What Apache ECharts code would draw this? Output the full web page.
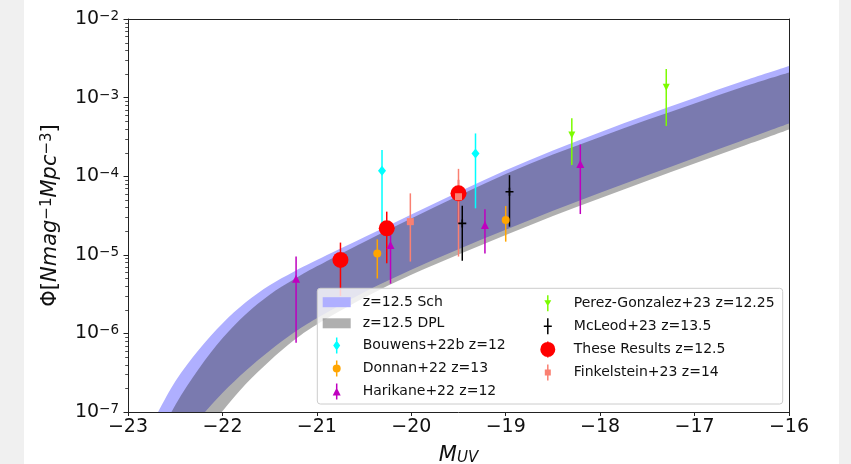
<!DOCTYPE html>
<html>
<head>
<meta charset="utf-8">
<script src="https://cdn.jsdelivr.net/npm/echarts@6/dist/echarts.min.js"></script>
<style>
  html, body { margin: 0; padding: 0; background: #f0f0f0; }
  #chart { position: absolute; left: 24px; top: 0; width: 815px; height: 464px; background: #ffffff; }
</style>
</head>
<body>
<div id="chart"></div>
<script>
// ---- Model envelopes (UV luminosity function at z = 12.5) ----
const bandMuv  = [-22.75, -22.5, -22.25, -22, -21.75, -21.5, -21.25, -21, -20.5, -20, -19.5, -19, -18.5, -18, -17.5, -17, -16.5, -16];
const schUpper = [7.03e-8, 2.44e-7, 6.19e-7, 1.34e-6, 2.50e-6, 4.10e-6, 6.05e-6, 8.57e-6, 1.67e-5, 3.26e-5, 6.28e-5, 1.19e-4, 2.12e-4, 3.63e-4, 6.05e-4, 9.91e-4, 1.60e-3, 2.52e-3];
const schLower = [1.29e-8, 3.55e-8, 8.13e-8, 1.74e-7, 3.37e-7, 6.01e-7, 1.01e-6, 1.56e-6, 3.34e-6, 6.46e-6, 1.18e-5, 2.08e-5, 3.63e-5, 6.15e-5, 1.03e-4, 1.71e-4, 2.83e-4, 4.68e-4];
const dplUpper = [3.14e-8, 1.22e-7, 3.56e-7, 8.67e-7, 1.77e-6, 3.11e-6, 4.81e-6, 7.13e-6, 1.46e-5, 2.90e-5, 5.66e-5, 1.07e-4, 1.89e-4, 3.16e-4, 5.21e-4, 8.43e-4, 1.35e-3, 2.08e-3];
const dplLower = [5.13e-9, 1.62e-8, 4.17e-8, 1.02e-7, 2.28e-7, 4.46e-7, 8.04e-7, 1.30e-6, 2.84e-6, 5.56e-6, 1.01e-5, 1.79e-5, 3.12e-5, 5.26e-5, 8.77e-5, 1.45e-4, 2.39e-4, 3.94e-4];

// ---- Observational points: M_UV, Phi, lower and upper error bounds ----
const bouwensM   = [-20.31, -19.32];
const bouwensPhi = [1.17e-4, 1.95e-4];
const bouwensLo  = [2.4e-5, 3.9e-5];
const bouwensHi  = [2.15e-4, 3.5e-4];

const donnanM   = [-20.36, -19.0];
const donnanPhi = [1.04e-5, 2.77e-5];
const donnanLo  = [5.0e-6, 1.47e-5];
const donnanHi  = [1.57e-5, 4.18e-5];

const harikaneM   = [-21.22, -20.22, -19.22, -18.21];
const harikanePhi = [4.97e-6, 1.33e-5, 2.39e-5, 1.43e-4];
const harikaneLo  = [7.6e-7, 4.3e-6, 1.04e-5, 3.3e-5];
const harikaneHi  = [9.5e-6, 2.0e-5, 3.8e-5, 2.53e-4];

const perezM   = [-18.30, -17.30];
const perezPhi = [3.34e-4, 1.35e-3];
const perezLo  = [1.39e-4, 4.35e-4];
const perezHi  = [5.46e-4, 2.31e-3];

const mcleodM   = [-19.46, -18.96];
const mcleodPhi = [2.51e-5, 6.35e-5];
const mcleodLo  = [8.4e-6, 2.28e-5];
const mcleodHi  = [4.21e-5, 1.03e-4];

const thisM   = [-20.75, -20.26, -19.50];
const thisPhi = [8.6e-6, 2.17e-5, 6.05e-5];
const thisLo  = [3.0e-6, 7.8e-6, 2.5e-5];
const thisHi  = [1.43e-5, 3.54e-5, 9.0e-5];

const finkM   = [-20.01, -19.50];
const finkPhi = [2.64e-5, 5.48e-5];
const finkLo  = [8.2e-6, 9.5e-6];
const finkHi  = [6.05e-5, 1.24e-4];

// ---- Axis ticks ----
const xMin = -23, xMax = -16;
const yMin = 1e-7, yMax = 1e-2;
// minor log ticks at 2..9 x 10^e
const minorTickValues = [];
for (let e = -7; e < -2; e++) {
  for (let k = 2; k <= 9; k++) minorTickValues.push(k * Math.pow(10, e));
}

const FONT = 'DejaVu Sans';
const AX = '#222';
const TXT = '#111';
const SCH_COLOR = 'rgb(175,175,255)';
const DPL_COLOR = 'rgba(20,20,20,0.34)';

// smooth Catmull-Rom edge through pixel points, as cubic Bezier path commands
function splinePath(pts) {
  let d = '';
  for (let i = 0; i < pts.length - 1; i++) {
    const p0 = pts[Math.max(i - 1, 0)], p1 = pts[i], p2 = pts[i + 1], p3 = pts[Math.min(i + 2, pts.length - 1)];
    const c1x = p1[0] + (p2[0] - p0[0]) / 6, c1y = p1[1] + (p2[1] - p0[1]) / 6;
    const c2x = p2[0] - (p3[0] - p1[0]) / 6, c2y = p2[1] - (p3[1] - p1[1]) / 6;
    d += 'C' + c1x + ',' + c1y + ' ' + c2x + ',' + c2y + ' ' + p2[0] + ',' + p2[1];
  }
  return d;
}

function bandSeries(name, lower, upper, color) {
  return {
    type: 'custom', name: name, silent: true,
    data: bandMuv.map((m, i) => [m, lower[i], upper[i]]),
    encode: { x: 0, y: [1, 2] },
    itemStyle: { color: color },
    renderItem: function (params, api) {
      if (params.dataIndex !== 0) return;
      const up = bandMuv.map((m, i) => api.coord([m, upper[i]]));
      const lo = bandMuv.map((m, i) => api.coord([m, lower[i]])).reverse();
      const d = 'M' + up[0][0] + ',' + up[0][1] + splinePath(up) +
                'L' + lo[0][0] + ',' + lo[0][1] + splinePath(lo) + 'Z';
      const cs = params.coordSys;
      return {
        type: 'path',
        shape: { pathData: d },
        style: { fill: color, stroke: null },
        clipPath: { type: 'rect', shape: { x: cs.x, y: cs.y, width: cs.width, height: cs.height } }
      };
    }
  };
}

function errorSeries(name, muv, lo, hi, color) {
  return {
    type: 'custom', name: name + '-err', silent: true,
    data: muv.map((m, i) => [m, lo[i], hi[i]]),
    encode: { x: 0, y: [1, 2] },
    renderItem: function (params, api) {
      const a = api.coord([api.value(0), api.value(1)]);
      const b = api.coord([api.value(0), api.value(2)]);
      return {
        type: 'line',
        shape: { x1: a[0], y1: a[1], x2: b[0], y2: b[1] },
        style: { stroke: color, lineWidth: 1.5 }
      };
    }
  };
}

function markerSeries(name, muv, phi, color, symbol, size, rotate) {
  return {
    type: 'scatter', name: name, silent: true,
    data: muv.map((m, i) => [m, phi[i]]),
    symbol: symbol, symbolSize: size, symbolRotate: rotate || 0,
    itemStyle: { color: color, opacity: 1, borderWidth: 0 }
  };
}

// short outward ticks on the left spine for the minor log values
const minorTickSeries = {
  type: 'custom', name: 'minor-ticks', silent: true, z: 6,
  data: minorTickValues.map(v => [xMin, v]),
  encode: { x: 0, y: 1 },
  renderItem: function (params, api) {
    const p = api.coord([api.value(0), api.value(1)]);
    const y = Math.round(p[1]) + 0.5;
    return {
      type: 'line',
      shape: { x1: p[0] - 2.8, y1: y, x2: p[0], y2: y },
      style: { stroke: AX, lineWidth: 0.8 }
    };
  }
};

const PLUS = 'path://M-4,-0.8H4V0.8H-4Z M-0.8,-4H0.8V4H-0.8Z';

const datasets = [
  { name: 'Bouwens+22b z=12', m: bouwensM, p: bouwensPhi, lo: bouwensLo, hi: bouwensHi, color: '#00ffff', symbol: 'diamond', size: [8, 10],
    icon: 'path://M-0.75,0L0.75,0L0.75,16L-0.75,16Z M0,3L3.5,8L0,13L-3.5,8Z' },
  { name: 'Donnan+22 z=13', m: donnanM, p: donnanPhi, lo: donnanLo, hi: donnanHi, color: '#ffa500', symbol: 'circle', size: 8,
    icon: 'path://M-0.75,0L0.75,0L0.75,16L-0.75,16Z M-4,8A4,4 0 1,1 4,8A4,4 0 1,1 -4,8Z' },
  { name: 'Harikane+22 z=12', m: harikaneM, p: harikanePhi, lo: harikaneLo, hi: harikaneHi, color: '#bf00bf', symbol: 'triangle', size: [8, 8],
    icon: 'path://M-0.75,0L0.75,0L0.75,16L-0.75,16Z M0,4L4,12L-4,12Z' },
  { name: 'Perez-Gonzalez+23 z=12.25', m: perezM, p: perezPhi, lo: perezLo, hi: perezHi, color: '#7cfc00', symbol: 'triangle', size: [7, 7], rotate: 180,
    icon: 'path://M-0.75,0L0.75,0L0.75,16L-0.75,16Z M-3.5,5L3.5,5L0,11Z' },
  { name: 'McLeod+23 z=13.5', m: mcleodM, p: mcleodPhi, lo: mcleodLo, hi: mcleodHi, color: '#000000', symbol: PLUS, size: 8,
    icon: 'path://M-0.75,0L0.75,0L0.75,16L-0.75,16Z M-4,7.2L4,7.2L4,8.8L-4,8.8Z' },
  { name: 'These Results z=12.5', m: thisM, p: thisPhi, lo: thisLo, hi: thisHi, color: '#ff0000', symbol: 'circle', size: 16,
    icon: 'path://M-0.75,0L0.75,0L0.75,16L-0.75,16Z M-7.5,8A7.5,7.5 0 1,1 7.5,8A7.5,7.5 0 1,1 -7.5,8Z' },
  { name: 'Finkelstein+23 z=14', m: finkM, p: finkPhi, lo: finkLo, hi: finkHi, color: '#fa8072', symbol: 'rect', size: 7,
    icon: 'path://M-0.75,0L0.75,0L0.75,16L-0.75,16Z M-3,5L3,5L3,11L-3,11Z' }
];

const series = [
  bandSeries('z=12.5 Sch', schLower, schUpper, SCH_COLOR),
  bandSeries('z=12.5 DPL', dplLower, dplUpper, DPL_COLOR)
];
datasets.forEach(d => {
  series.push(errorSeries(d.name, d.m, d.lo, d.hi, d.color));
  series.push(markerSeries(d.name, d.m, d.p, d.color, d.symbol, d.size, d.rotate));
});
series.push(minorTickSeries);

function legendItem(d) {
  return { name: d.name, icon: d.icon, itemStyle: { color: d.color, borderWidth: 0 } };
}
const bandIcon = 'path://M0,0H28V10H0Z';
const legendText = { fontFamily: FONT, fontSize: 14, color: TXT, padding: [0, 0, 0, 7] };
const legendCommon = {
  orient: 'vertical', padding: 0, itemWidth: 28, itemHeight: 16, itemGap: 7.1,
  selectedMode: false, symbolKeepAspect: true, textStyle: legendText, z: 5
};

const supRich = {
  b: { fontFamily: FONT, fontSize: 19, lineHeight: 19, verticalAlign: 'bottom', color: TXT },
  s: { fontFamily: FONT, fontSize: 13.5, lineHeight: 13, verticalAlign: 'top', padding: [0, 0, 9, 0], color: TXT }
};

const option = {
  animation: false,
  grid: { left: 104, right: 50, top: 19, bottom: 52, containLabel: false, outerBoundsMode: 'none' },
  xAxis: [
    {
      type: 'value', min: xMin, max: xMax, interval: 1, z: 5,
      axisLine: { show: true, onZero: false, lineStyle: { color: AX, width: 1 } },
      axisTick: { show: true, length: 4, lineStyle: { color: AX, width: 1 } },
      axisLabel: {
        margin: 6, fontFamily: FONT, fontSize: 19, color: TXT,
        formatter: v => (v < 0 ? '\u2212' + (-v) : String(v))
      },
      splitLine: { show: false },
      name: '{i|M}{u|UV}', nameLocation: 'middle', nameGap: 27,
      nameTextStyle: {
        rich: {
          i: { fontFamily: FONT, fontStyle: 'italic', fontSize: 21, lineHeight: 21, verticalAlign: 'top', color: TXT },
          u: { fontFamily: FONT, fontStyle: 'italic', fontSize: 15, lineHeight: 15, verticalAlign: 'bottom', padding: [9, 0, 0, 0], color: TXT }
        }
      }
    },
    {
      type: 'value', min: xMin, max: xMax, position: 'top', z: 5,
      axisLine: { show: true, onZero: false, lineStyle: { color: AX, width: 1 } },
      axisTick: { show: false }, axisLabel: { show: false }, splitLine: { show: false }
    }
  ],
  yAxis: [
    {
      type: 'log', logBase: 10, min: yMin, max: yMax, z: 5,
      axisLine: { show: true, onZero: false, lineStyle: { color: AX, width: 1 } },
      axisTick: { show: true, length: 4.5, lineStyle: { color: AX, width: 1 } },
      axisLabel: {
        margin: 9,
        formatter: v => '{b|10}{s|\u2212' + Math.round(-Math.log10(v)) + '}',
        rich: supRich
      },
      splitLine: { show: false },
      name: '{a|\u03A6[}{i|Nmag}{s|\u22121}{i|Mpc}{s|\u22123}{a|]}',
      nameLocation: 'middle', nameGap: 64, nameRotate: 90,
      nameTextStyle: {
        rich: {
          a: { fontFamily: FONT, fontSize: 21, lineHeight: 21, verticalAlign: 'bottom', color: TXT },
          i: { fontFamily: FONT, fontStyle: 'italic', fontSize: 21, lineHeight: 21, verticalAlign: 'bottom', color: TXT },
          s: { fontFamily: FONT, fontSize: 15, lineHeight: 15, verticalAlign: 'top', padding: [0, 0, 9, 0], color: TXT }
        }
      }
    },
    {
      type: 'log', logBase: 10, min: yMin, max: yMax, position: 'right', z: 5,
      axisLine: { show: true, onZero: false, lineStyle: { color: AX, width: 1 } },
      axisTick: { show: false }, axisLabel: { show: false }, splitLine: { show: false }
    }
  ],
  legend: [
    Object.assign({}, legendCommon, {
      left: 298.7, top: 295.2,
      data: [
        { name: 'z=12.5 Sch', icon: bandIcon, itemStyle: { color: SCH_COLOR, borderWidth: 0 } },
        { name: 'z=12.5 DPL', icon: bandIcon, itemStyle: { color: DPL_COLOR, borderWidth: 0 } },
        legendItem(datasets[0]), legendItem(datasets[1]), legendItem(datasets[2])
      ]
    }),
    Object.assign({}, legendCommon, {
      left: 516.3, top: 295.2,
      data: [legendItem(datasets[3]), legendItem(datasets[4]), legendItem(datasets[5]), legendItem(datasets[6])]
    })
  ],
  graphic: {
    elements: [{
      type: 'rect', z: 3, silent: true,
      shape: { x: 293.3, y: 288.3, width: 465.4, height: 115.7, r: 3 },
      style: { fill: 'rgba(255,255,255,0.8)', stroke: '#cccccc', lineWidth: 1 }
    }]
  },
  series: series
};

const chart = echarts.init(document.getElementById('chart'), null, { renderer: 'canvas' });
chart.setOption(option);
</script>
</body>
</html>
